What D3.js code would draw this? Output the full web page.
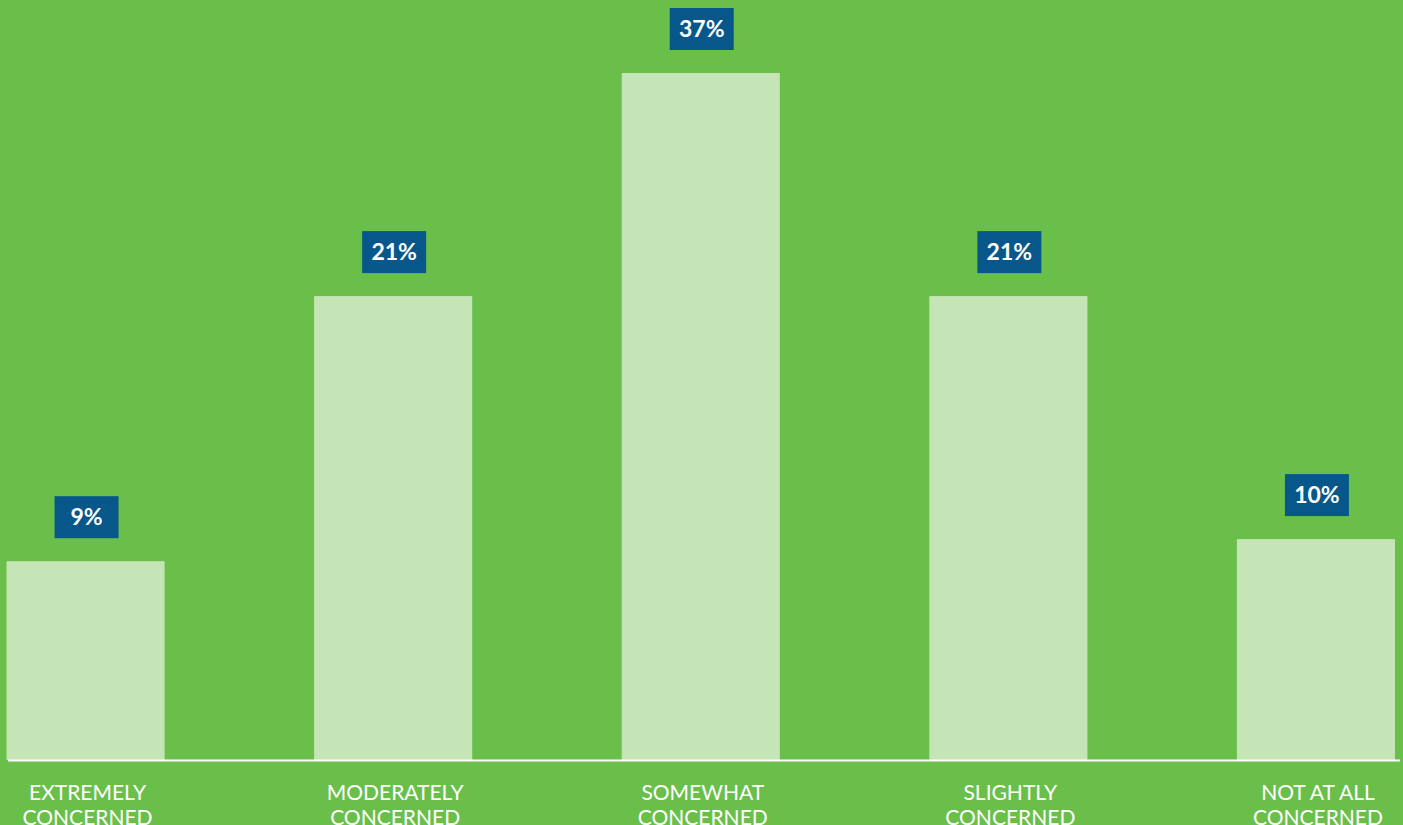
<!DOCTYPE html>
<html>
<head>
<meta charset="utf-8">
<script src="https://cdn.jsdelivr.net/npm/d3@7"></script>
<style>
  html, body { margin: 0; padding: 0; background: #6abf4b; overflow: hidden; }
  svg { display: block; }
</style>
</head>
<body>
<svg id="chart" width="1403" height="825"></svg>
<script>
const categories = ["EXTREMELY CONCERNED", "MODERATELY CONCERNED", "SOMEWHAT CONCERNED", "SLIGHTLY CONCERNED", "NOT AT ALL CONCERNED"];
const categoryLines = [["EXTREMELY", "CONCERNED"], ["MODERATELY", "CONCERNED"], ["SOMEWHAT", "CONCERNED"], ["SLIGHTLY", "CONCERNED"], ["NOT AT ALL", "CONCERNED"]];
const values = [9, 21, 37, 21, 10];
const valueLabels = ["9%", "21%", "37%", "21%", "10%"];

const W = 1403, H = 825;
const baseY = 760, topY = 73;
const svg = d3.select("#chart");

svg.append("rect").attr("width", W).attr("height", H).attr("fill", "#6abf4b");

const x = d3.scaleBand().domain(categories).range([6.5, 1395]).paddingInner(0.486).paddingOuter(0);
// tallest bar is truncated at the top of the plotting area
const y = d3.scaleLinear().domain([0, 31.1]).range([baseY, topY]).clamp(true);

const data = categories.map((c, i) => ({ c, v: values[i], label: valueLabels[i], lines: categoryLines[i] }));

svg.append("g").selectAll("rect").data(data).join("rect")
  .attr("x", d => x(d.c))
  .attr("y", d => y(d.v))
  .attr("width", x.bandwidth())
  .attr("height", d => baseY - y(d.v))
  .attr("fill", "#c6e5b6");

svg.append("line")
  .attr("x1", 8).attr("x2", 1400)
  .attr("y1", baseY + 0.5).attr("y2", baseY + 0.5)
  .attr("stroke", "#ffffff").attr("stroke-width", 2);

const boxW = 64, boxH = 42, gap = 23;
const lbl = svg.append("g").selectAll("g").data(data).join("g")
  .attr("transform", d => `translate(${x(d.c) + x.bandwidth() / 2 + 1},${y(d.v) - gap - boxH})`);
lbl.append("rect")
  .attr("x", -boxW / 2).attr("y", 0)
  .attr("width", boxW).attr("height", boxH)
  .attr("fill", "#08578b");
lbl.append("text")
  .attr("x", 0).attr("y", boxH / 2 + 8)
  .attr("text-anchor", "middle")
  .attr("fill", "#ffffff")
  .attr("font-family", "Lato, 'Open Sans', sans-serif")
  .attr("font-weight", 700)
  .attr("font-size", 23)
  .text(d => d.label);

const cat = svg.append("g").selectAll("text").data(data).join("text")
  .attr("x", d => x(d.c) + x.bandwidth() / 2 + 2)
  .attr("y", 800)
  .attr("text-anchor", "middle")
  .attr("fill", "#ffffff")
  .attr("font-family", "Lato, 'Open Sans', sans-serif")
  .attr("font-weight", 400)
  .attr("font-size", 21);
cat.selectAll("tspan").data(d => d.lines).join("tspan")
  .attr("x", function() { return d3.select(this.parentNode).attr("x"); })
  .attr("dy", (d, i) => i === 0 ? 0 : 25)
  .text(d => d);
</script>
</body>
</html>
